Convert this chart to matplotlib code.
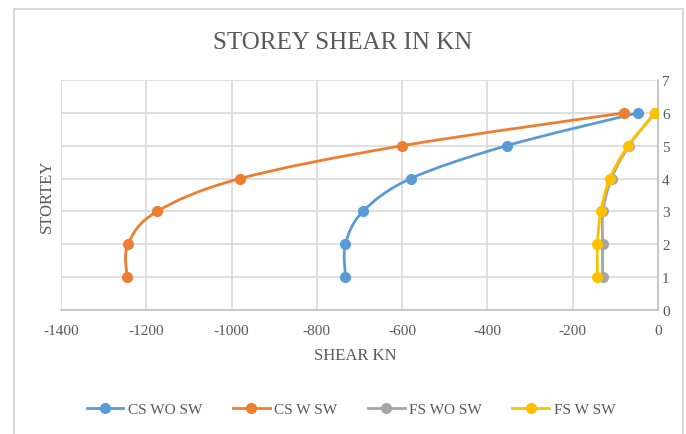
import matplotlib.pyplot as plt
from matplotlib.path import Path
import matplotlib.patches as patches

# data
storey = [1, 2, 3, 4, 5, 6]
cs_wo_sw = [-733, -733, -692, -580, -355, -47]
cs_w_sw = [-1245, -1243, -1175, -980, -600, -79]
fs_wo_sw = [-130, -130, -129, -109, -68, -8]
fs_w_sw = [-142, -142, -134, -113, -70, -6]

series = [("CS WO SW", cs_wo_sw, '#5B9BD5'),
          ("CS W SW", cs_w_sw, '#ED7D31'),
          ("FS WO SW", fs_wo_sw, '#A5A5A5'),
          ("FS W SW", fs_w_sw, '#FFC000')]

plt.rcParams['font.family'] = ['Liberation Serif', 'DejaVu Serif']
plt.rcParams['axes.unicode_minus'] = False

fig = plt.figure(figsize=(6.86, 4.35), dpi=100)
ax = fig.add_axes([61/686, 1 - 311/435, (658 - 61)/686, (311 - 81)/435])

# outer chart border
border = patches.Rectangle((14/686, -0.05), (683 - 14)/686, 1 - 10/435 + 0.05,
                           transform=fig.transFigure, fill=False,
                           edgecolor='#D9D9D9', lw=1.5, clip_on=False)
fig.patches.append(border)


# smoothed line like excel (bezier through the points)
def smooth_path(xs, ys):
    pts = list(zip(xs, ys))
    n = len(pts)
    verts = [pts[0]]
    codes = [Path.MOVETO]
    for i in range(n - 1):
        p0 = pts[i - 1] if i > 0 else pts[i]
        p1 = pts[i]
        p2 = pts[i + 1]
        p3 = pts[i + 2] if i + 2 < n else pts[i + 1]
        c1 = (p1[0] + (p2[0] - p0[0]) / 6, p1[1] + (p2[1] - p0[1]) / 6)
        c2 = (p2[0] - (p3[0] - p1[0]) / 6, p2[1] - (p3[1] - p1[1]) / 6)
        verts += [c1, c2, p2]
        codes += [Path.CURVE4] * 3
    return Path(verts, codes)


for label, vals, col in series:
    ax.add_patch(patches.PathPatch(smooth_path(vals, storey), fill=False,
                                   edgecolor=col, lw=2.0, zorder=3))
    ax.plot(vals, storey, ls='none', marker='o', ms=7, color=col, zorder=4)
    ax.plot([], [], '-o', color=col, lw=2.0, ms=7, label=label)

ax.set_xlim(-1400, 0)
ax.set_ylim(0, 7)
ax.set_xticks(range(-1400, 1, 200))
ax.set_yticks(range(0, 8))
ax.grid(True, color='#D9D9D9', lw=1.2)
ax.set_axisbelow(True)
for s in ['top', 'left']:
    ax.spines[s].set_visible(False)
ax.spines['bottom'].set_color('#BFBFBF')
ax.spines['right'].set_color('#BFBFBF')
ax.spines['bottom'].set_linewidth(1.2)
ax.spines['right'].set_linewidth(1.2)
ax.yaxis.tick_right()
ax.tick_params(length=0, labelsize=11, colors='#595959')
ax.tick_params(axis='y', pad=3)
ax.tick_params(axis='x', pad=10)

fig.text(0.5, 1 - 43/435, "STOREY SHEAR IN KN", ha='center', va='center',
         fontsize=18, color='#595959')
fig.text(355/686, 1 - 356/435, "SHEAR KN", ha='center', va='center',
         fontsize=12, color='#595959')
fig.text(47/686, 1 - 196/435, "STORTEY", ha='center', va='center',
         rotation=90, fontsize=12, color='#595959')

fig.legend(loc='center', bbox_to_anchor=(351/686, 1 - 410/435), ncol=4,
           frameon=False, fontsize=11, labelcolor='#595959',
           handlelength=2.4, columnspacing=2.0, handletextpad=0.3)

plt.savefig('out.png', dpi=100)
plt.close()
